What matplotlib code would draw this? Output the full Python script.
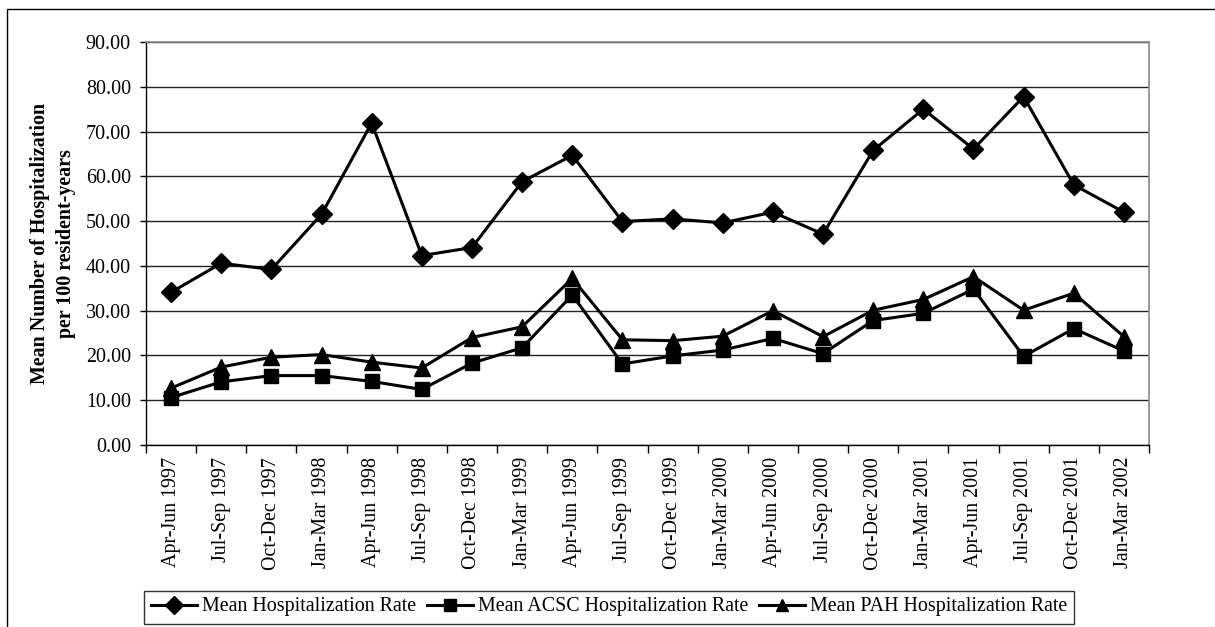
import numpy as np
import matplotlib
matplotlib.use("Agg")
import matplotlib.pyplot as plt
from matplotlib.patches import Rectangle

# quarterly periods, Apr 1997 - Mar 2002
quarters = ["Apr-Jun 1997", "Jul-Sep 1997", "Oct-Dec 1997", "Jan-Mar 1998",
            "Apr-Jun 1998", "Jul-Sep 1998", "Oct-Dec 1998", "Jan-Mar 1999",
            "Apr-Jun 1999", "Jul-Sep 1999", "Oct-Dec 1999", "Jan-Mar 2000",
            "Apr-Jun 2000", "Jul-Sep 2000", "Oct-Dec 2000", "Jan-Mar 2001",
            "Apr-Jun 2001", "Jul-Sep 2001", "Oct-Dec 2001", "Jan-Mar 2002"]

# hospitalizations per 100 resident-years
mean_rate = [34.1, 40.6, 39.2, 51.5, 71.9, 42.3, 44.1, 58.8, 64.7, 49.9,
             50.5, 49.6, 52.0, 47.1, 65.8, 75.0, 66.1, 77.8, 58.1, 52.0]
acsc_rate = [10.6, 14.1, 15.5, 15.5, 14.2, 12.4, 18.3, 21.7, 33.5, 18.1,
             19.9, 21.2, 23.8, 20.4, 27.8, 29.4, 34.8, 19.8, 26.0, 21.0]
pah_rate = [12.7, 17.4, 19.6, 20.2, 18.5, 17.2, 24.0, 26.4, 37.2, 23.5,
            23.3, 24.3, 30.0, 24.2, 30.1, 32.5, 37.6, 30.1, 33.9, 24.2]

plt.rcParams['font.family'] = ['Liberation Serif', 'DejaVu Serif']
FS = 14.4

fig = plt.figure(figsize=(12.15, 6.27), dpi=100)
ax = fig.add_axes([146/1215, 1-445/627, (1149-146)/1215, (445-42)/627])

x = np.arange(len(quarters))
style = dict(color='black', lw=2.2, clip_on=False)
ax.plot(x, mean_rate, marker='D', ms=10.5, label='Mean Hospitalization Rate', **style)
ax.plot(x, acsc_rate, marker='s', ms=10, label='Mean ACSC Hospitalization Rate', **style)
ax.plot(x, pah_rate, marker='^', ms=12, label='Mean PAH Hospitalization Rate', **style)

ax.set_xlim(-0.5, len(quarters) - 0.5)
ax.set_ylim(0, 90)
ax.set_yticks(np.arange(0, 91, 10))
ax.set_yticklabels([f"{v:.2f}" for v in np.arange(0, 91, 10)], fontsize=FS)
ax.yaxis.grid(True, color='#222222', lw=1)
ax.set_axisbelow(True)

# boundary ticks between quarters, labels at the centres
ax.set_xticks(np.arange(-0.5, len(quarters)))
ax.set_xticklabels([])
ax.set_xticks(x, minor=True)
ax.set_xticklabels(quarters, minor=True, rotation=90, fontsize=FS)
ax.tick_params(axis='x', which='major', length=6, width=1, direction='out')
ax.tick_params(axis='x', which='minor', length=0, pad=8.5)
ax.tick_params(axis='y', length=4.3, width=1, direction='out', pad=6.5)

for side in ['top', 'right']:
    ax.spines[side].set_color('#888888')
    ax.spines[side].set_linewidth(1.2)
for side in ['left', 'bottom']:
    ax.spines[side].set_color('black')
    ax.spines[side].set_linewidth(1)

ax.set_ylabel("Mean Number of Hospitalization\nper 100 resident-years",
              fontsize=FS, fontweight='bold', labelpad=7, linespacing=1.4)

leg = ax.legend(loc='center', bbox_to_anchor=(609/1215, 1-607/627),
                bbox_transform=fig.transFigure, ncol=3, fontsize=FS,
                frameon=True, fancybox=False, handlelength=2.3,
                handletextpad=0.25, columnspacing=0.55, borderpad=0.35,
                borderaxespad=0)
leg.get_frame().set_edgecolor('black')
leg.get_frame().set_linewidth(1)
for h in leg.legend_handles:
    h.set_markersize(9)

# outer border of the chart area
fig.patches.append(Rectangle((7/1215, -0.1), 1.2, 1-9/627+0.1,
                             transform=fig.transFigure, fill=False,
                             edgecolor='black', lw=1))

fig.savefig("out.png", dpi=100)
